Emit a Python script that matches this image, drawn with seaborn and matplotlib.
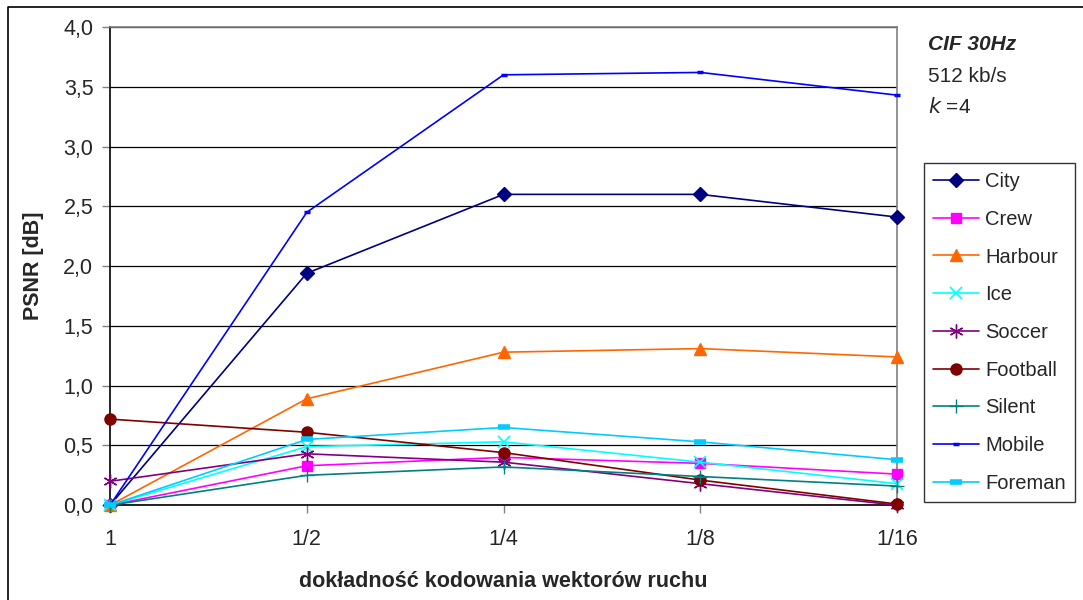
import matplotlib
matplotlib.use("Agg")
import matplotlib.pyplot as plt
import matplotlib.ticker as ticker
from matplotlib.lines import Line2D
import numpy as np
import pandas as pd
import seaborn as sns

# data
categories = ["1", "1/2", "1/4", "1/8", "1/16"]
city = [0.0, 1.94, 2.60, 2.60, 2.41]
crew = [0.0, 0.33, 0.40, 0.35, 0.26]
harbour = [0.0, 0.89, 1.28, 1.31, 1.24]
ice = [0.0, 0.49, 0.53, 0.36, 0.18]
soccer = [0.20, 0.43, 0.36, 0.18, 0.0]
football = [0.72, 0.61, 0.44, 0.21, 0.01]
silent = [0.0, 0.25, 0.32, 0.24, 0.16]
mobile = [0.0, 2.45, 3.60, 3.62, 3.43]
foreman = [0.0, 0.55, 0.65, 0.53, 0.38]

series = {"City": city, "Crew": crew, "Harbour": harbour, "Ice": ice,
          "Soccer": soccer, "Football": football, "Silent": silent,
          "Mobile": mobile, "Foreman": foreman}

styles = {
    "City": ("#000080", "D", 7, 1.0),
    "Crew": ("#FF00FF", "s", 7, 1.0),
    "Harbour": ("#FF6600", "^", 8, 1.0),
    "Ice": ("#00FFFF", "x", 8, 1.2),
    "Soccer": ("#800080", (6, 2, 0), 10, 1.0),
    "Football": ("#800000", "o", 8, 1.0),
    "Silent": ("#008080", "+", 10, 1.0),
    "Mobile": ("#0000FF", "_", 5, 2.5),
    "Foreman": ("#00CCFF", "_", 9, 4.0),
}

sns.set_style("white")
plt.rcParams['font.family'] = ['Liberation Sans', 'DejaVu Sans']

fig = plt.figure(figsize=(10.83, 6), dpi=100)
ax = fig.add_axes([0.1016, 0.158, 0.7267, 0.797])

xpos = np.arange(len(categories))
for name, vals in series.items():
    col, mk, ms, mew = styles[name]
    sns.lineplot(x=xpos, y=vals, ax=ax, color=col, marker=mk, markersize=ms,
                 markeredgewidth=mew, markeredgecolor=col, linewidth=1.2,
                 label=name, clip_on=False, zorder=3)

ax.set_xlim(0, 4)
ax.set_ylim(0, 4)
ax.set_xticks(xpos)
ax.set_xticklabels(categories)
ax.yaxis.set_major_locator(ticker.MultipleLocator(0.5))
ax.yaxis.set_major_formatter(ticker.FuncFormatter(lambda v, p: f"{v:.1f}".replace(".", ",")))
ax.grid(axis="y", color="black", linewidth=0.9)
ax.set_axisbelow(True)

for s in ["top", "right"]:
    ax.spines[s].set_color("#808080")
    ax.spines[s].set_linewidth(1.2)
for s in ["left", "bottom"]:
    ax.spines[s].set_color("black")
    ax.spines[s].set_linewidth(1.2)

ax.tick_params(axis="both", direction="out", length=6, width=1, color="#808080",
               labelsize=15.5, pad=6, left=True, bottom=True)
ax.tick_params(axis="x", pad=11)

ax.set_xlabel("dokładność kodowania wektorów ruchu", fontsize=15.5, fontweight="bold", labelpad=15)
ax.set_ylabel("PSNR [dB]", fontsize=15.5, fontweight="bold", labelpad=14)

leg = ax.legend(loc="upper left", bbox_to_anchor=(924 / 1083, 1 - 163 / 600),
                bbox_transform=fig.transFigure, frameon=True, fancybox=False,
                edgecolor="black", fontsize=14.5, handlelength=2.3,
                labelspacing=0.93, borderpad=0.45, handletextpad=0.3,
                borderaxespad=0)
leg.get_frame().set_linewidth(1.0)

fig.text(928 / 1083, 1 - 45 / 600, "CIF 30Hz", fontsize=15, fontweight="bold",
         fontstyle="italic", va="center")
fig.text(928 / 1083, 1 - 77 / 600, "512 kb/s", fontsize=15, va="center")
fig.text(928 / 1083, 1 - 107 / 600, r"$\mathit{k}$ =4", fontsize=15, va="center")

# outer chart frame: only left and top edges fall inside the picture
fx, fy = 8 / 1083, 1 - 7 / 600
fig.add_artist(Line2D([fx, fx, 1.0], [0.0, fy, fy], transform=fig.transFigure,
                      color="black", linewidth=1.2))

fig.savefig("out.png", dpi=100)
